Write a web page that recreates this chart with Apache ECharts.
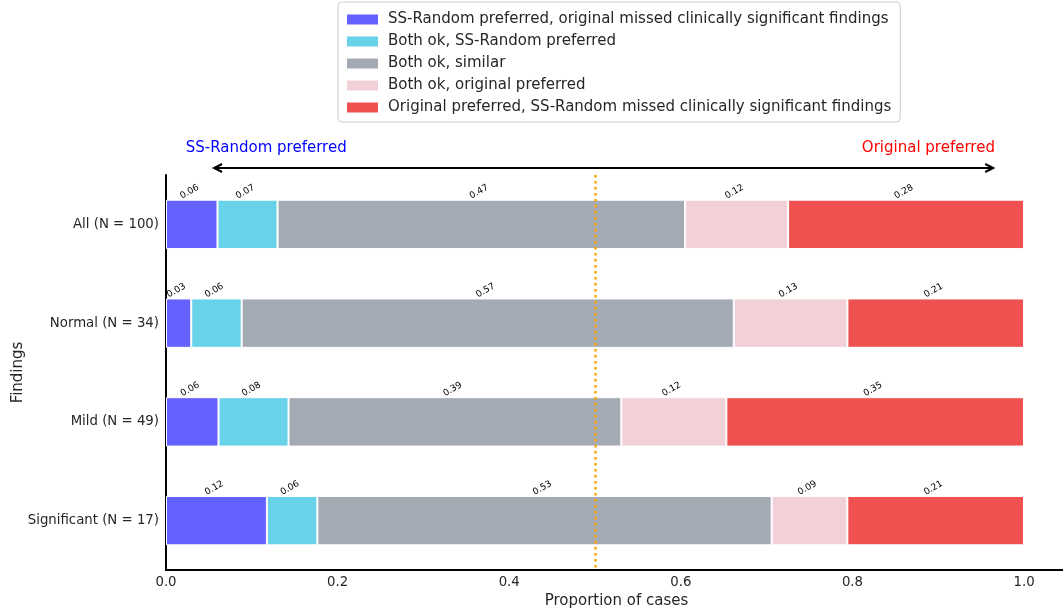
<!DOCTYPE html>
<html>
<head>
<meta charset="utf-8">
<script src="https://cdn.jsdelivr.net/npm/echarts@6/dist/echarts.min.js"></script>
<style>
  html, body { margin: 0; padding: 0; background: #fff; }
  #chart { width: 1063px; height: 609px; }
</style>
</head>
<body>
<div id="chart"></div>
<script>
// Findings groups (top to bottom)
const categories = ['All (N = 100)', 'Normal (N = 34)', 'Mild (N = 49)', 'Significant (N = 17)'];

// Proportion of cases per preference bucket, one value per findings group
const ssMissedOriginal = [0.06, 0.0294, 0.0612, 0.1176];
const bothOkSsPreferred = [0.07, 0.0588, 0.0816, 0.0588];
const bothOkSimilar = [0.475, 0.5735, 0.3878, 0.5294];
const bothOkOriginalPreferred = [0.12, 0.1324, 0.1224, 0.0882];
const originalMissedSs = [0.275, 0.2059, 0.3469, 0.2059];

const seriesNames = [
  'SS-Random preferred, original missed clinically significant findings',
  'Both ok, SS-Random preferred',
  'Both ok, similar',
  'Both ok, original preferred',
  'Original preferred, SS-Random missed clinically significant findings'
];
const seriesValues = [ssMissedOriginal, bothOkSsPreferred, bothOkSimilar, bothOkOriginalPreferred, originalMissedSs];
const seriesColors = ['#6461FE', '#68D3E8', '#A4AAB3', '#F2D0D7', '#EF5050'];

const xTicks = [0, 0.2, 0.4, 0.6, 0.8, 1.0];

const FONT = 'DejaVu Sans';
const TEXT = '#262626';

const chart = echarts.init(document.getElementById('chart'), null, { renderer: 'canvas' });

const barSeries = seriesNames.map((name, i) => ({
  name: name,
  type: 'bar',
  stack: 'total',
  barWidth: '50%',
  data: seriesValues[i],
  itemStyle: { color: seriesColors[i], borderColor: '#ffffff', borderWidth: 1 },
  label: {
    show: true,
    position: 'top',
    distance: 4,
    rotate: 30,
    fontFamily: FONT,
    fontSize: 9,
    color: '#000',
    formatter: p => p.value.toFixed(2)
  },
  emphasis: { disabled: true },
  animation: false
}));

// midpoint reference line at 0.5
barSeries.push({
  name: 'midpoint',
  type: 'line',
  data: [],
  z: 10,
  markLine: {
    silent: true,
    symbol: 'none',
    label: { show: false },
    lineStyle: { color: '#FFA500', width: 2.5, type: [2.5, 3.5] },
    data: [{ xAxis: 0.5 }]
  },
  animation: false
});

const option = {
  animation: false,
  backgroundColor: '#ffffff',
  // the plot runs slightly past the right edge of the canvas
  grid: { left: 166, right: -4, top: 175, bottom: 39, containLabel: false, outerBoundsMode: 'none' },
  legend: {
    data: seriesNames,
    orient: 'vertical',
    left: 338,
    top: 2,
    itemWidth: 33,
    itemHeight: 12,
    itemGap: 7,
    icon: 'rect',
    padding: [10, 9, 7, 7],
    borderColor: '#cccccc',
    borderWidth: 1,
    borderRadius: 4,
    backgroundColor: 'rgba(255,255,255,0.8)',
    selectedMode: false,
    textStyle: { fontFamily: FONT, fontSize: 15, color: TEXT, padding: [0, 0, 0, 4] }
  },
  xAxis: {
    type: 'value',
    min: 0,
    max: 1.05,
    interval: 0.2,
    name: 'Proportion of cases',
    nameLocation: 'middle',
    nameGap: 19,
    nameTextStyle: { fontFamily: FONT, fontSize: 15, color: TEXT },
    axisLine: { show: true, lineStyle: { color: '#000', width: 2 } },
    axisTick: { show: false },
    splitLine: { show: false },
    axisLabel: {
      fontFamily: FONT, fontSize: 13.3, color: TEXT, margin: 6,
      formatter: v => {
        const hit = xTicks.find(t => Math.abs(t - v) < 1e-6);
        return hit === undefined ? '' : hit.toFixed(1);
      }
    }
  },
  yAxis: {
    type: 'category',
    data: categories,
    inverse: true,
    name: 'Findings',
    nameLocation: 'middle',
    nameGap: 140,
    nameMoveOverlap: false,
    nameTextStyle: { fontFamily: FONT, fontSize: 15, color: TEXT },
    axisLine: { show: true, lineStyle: { color: '#000', width: 2 } },
    axisTick: { show: false },
    splitLine: { show: false },
    axisLabel: { fontFamily: FONT, fontSize: 13.3, color: TEXT, margin: 7 }
  },
  series: barSeries
};

chart.setOption(option);

// Direction annotation above the plot: double-headed arrow with captions
const arrowFrom = 0.056;
const arrowTo = 0.964;
const leftCaptionAt = 0.023;
const rightCaptionAt = 0.966;

function px(v) { return chart.convertToPixel({ xAxisIndex: 0 }, v); }
const gridTop = 175;
const ay = gridTop - 7;
const ax1 = px(arrowFrom), ax2 = px(arrowTo);
const head = 8, half = 4;

chart.setOption({
  graphic: [
    { type: 'line', shape: { x1: ax1, y1: ay, x2: ax2, y2: ay }, style: { stroke: '#000', lineWidth: 2 }, silent: true },
    { type: 'polyline', shape: { points: [[ax1 + head, ay - half], [ax1, ay], [ax1 + head, ay + half]] }, style: { stroke: '#000', lineWidth: 2, fill: null }, silent: true },
    { type: 'polyline', shape: { points: [[ax2 - head, ay - half], [ax2, ay], [ax2 - head, ay + half]] }, style: { stroke: '#000', lineWidth: 2, fill: null }, silent: true },
    { type: 'text', x: px(leftCaptionAt), y: ay - 20, style: { text: 'SS-Random preferred', fill: '#0000FF', font: '15px "DejaVu Sans"', textAlign: 'left', textVerticalAlign: 'middle' }, silent: true },
    { type: 'text', x: px(rightCaptionAt), y: ay - 20, style: { text: 'Original preferred', fill: '#FF0000', font: '15px "DejaVu Sans"', textAlign: 'right', textVerticalAlign: 'middle' }, silent: true }
  ]
});
</script>
</body>
</html>
